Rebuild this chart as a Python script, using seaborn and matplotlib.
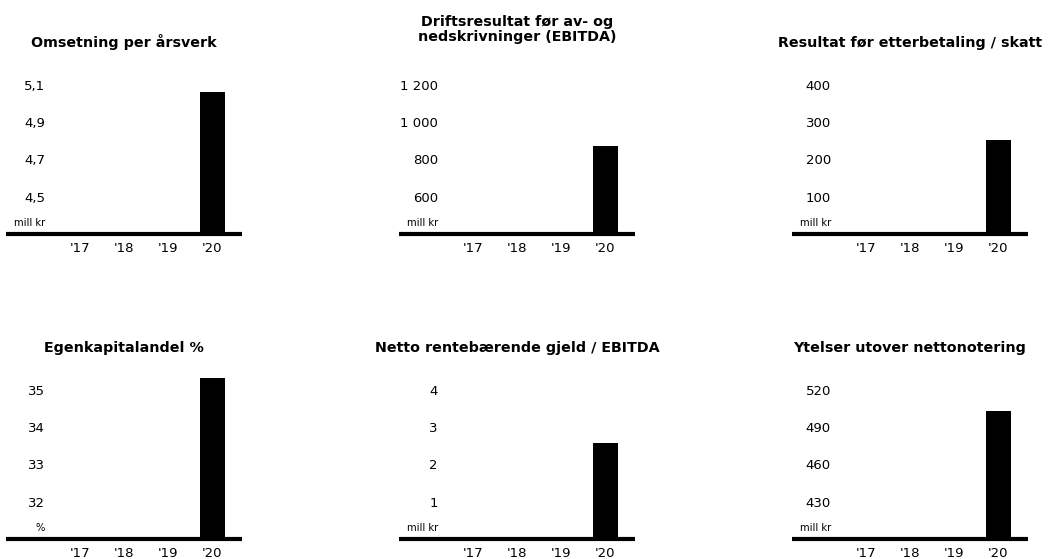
import numpy as np
import matplotlib
matplotlib.use("Agg")
import matplotlib.pyplot as plt
import seaborn as sns

# data (only 2020 has a value)
years = ["'17", "'18", "'19", "'20"]

titles = [
    "Omsetning per årsverk",
    "Driftsresultat før av- og\nnedskrivninger (EBITDA)",
    "Resultat før etterbetaling / skatt",
    "Egenkapitalandel %",
    "Netto rentebærende gjeld / EBITDA",
    "Ytelser utover nettonotering",
]
units = ["mill kr", "mill kr", "mill kr", "%", "mill kr", "mill kr"]

omsetning = [np.nan, np.nan, np.nan, 5.06]
ebitda = [np.nan, np.nan, np.nan, 870]
resultat = [np.nan, np.nan, np.nan, 253]
egenkapital = [np.nan, np.nan, np.nan, 35.3]
gjeld_ebitda = [np.nan, np.nan, np.nan, 2.56]
ytelser = [np.nan, np.nan, np.nan, 503]
series = [omsetning, ebitda, resultat, egenkapital, gjeld_ebitda, ytelser]

yticks = [
    [4.5, 4.7, 4.9, 5.1],
    [600, 800, 1000, 1200],
    [100, 200, 300, 400],
    [32, 33, 34, 35],
    [1, 2, 3, 4],
    [430, 460, 490, 520],
]
ytick_labels = [
    ["4,5", "4,7", "4,9", "5,1"],
    ["600", "800", "1 000", "1 200"],
    ["100", "200", "300", "400"],
    ["32", "33", "34", "35"],
    ["1", "2", "3", "4"],
    ["430", "460", "490", "520"],
]

sns.set_style("white")
plt.rcParams["font.family"] = ["DejaVu Sans"]
plt.rcParams["text.color"] = "black"
plt.rcParams["xtick.color"] = "black"
plt.rcParams["ytick.color"] = "black"

W, H = 1051, 559
fig = plt.figure(figsize=(W / 100, H / 100), dpi=100)

lefts = [6, 399, 792]
baselines = [234, 539]
ax_w, ax_h = 236, 168

for i in range(6):
    row, col = divmod(i, 3)
    left = lefts[col]
    base = baselines[row]
    ax = fig.add_axes([left / W, 1 - base / H, ax_w / W, ax_h / H])

    sns.barplot(x=years, y=series[i], color="black", width=0.57,
                linewidth=0, saturation=1, ax=ax)

    # ticks step is constant, baseline sits one step below the first tick
    step = yticks[i][1] - yticks[i][0]
    ax.set_ylim(yticks[i][0] - step, yticks[i][-1] + 0.5 * step)
    ax.set_xlim(-1.68, 3.68)
    ax.set_yticks(yticks[i])
    ax.set_yticklabels(ytick_labels[i])

    for s in ["top", "right", "left"]:
        ax.spines[s].set_visible(False)
    ax.spines["bottom"].set_linewidth(3)
    ax.spines["bottom"].set_color("black")
    ax.spines["bottom"].set_capstyle("butt")

    ax.tick_params(axis="y", length=0, pad=-28, labelsize=9.5)
    ax.tick_params(axis="x", length=0, pad=5.5, labelsize=9.5)
    for lab in ax.get_yticklabels():
        lab.set_horizontalalignment("right")
    ax.set_xlabel("")
    ax.set_ylabel("")
    ax.grid(False)

    # unit label just above the baseline
    ax.annotate(units[i], xy=(0, 0), xycoords="axes fraction",
                xytext=(28, 4), textcoords="offset points",
                ha="right", va="bottom", fontsize=7.2)

    tpad = 18 if "\n" in titles[i] else 14
    ax.set_title(titles[i], fontsize=10.3, fontweight="bold", pad=tpad,
                 linespacing=1.05, color="black")

fig.savefig("out.png", dpi=100)
